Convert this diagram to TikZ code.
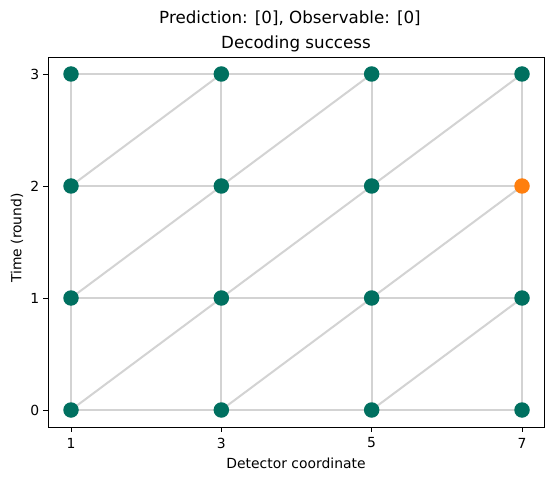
\documentclass[tikz,border=0pt]{standalone}
\usepackage{fontspec}
\setmainfont{DejaVu Sans}
\definecolor{dotteal}{RGB}{0,112,96}
\definecolor{dotorange}{RGB}{255,127,14}
\definecolor{edgegray}{RGB}{211,211,211}
\begin{document}
\begin{tikzpicture}[
  edge/.style={draw=edgegray, line width=2pt},
  dot/.style={circle, fill=dotteal, inner sep=0pt, minimum size=15.5pt},
  hotdot/.style={dot, fill=dotorange},
  ticklab/.style={font=\fontsize{13.9}{16}\selectfont, inner sep=0pt},
  titlelab/.style={font=\fontsize{16.7}{19}\selectfont, inner sep=0pt},
  spine/.style={draw=black, line width=0.9pt},
  tickmark/.style={draw=black, line width=0.9pt}
]
\useasboundingbox (0pt,0pt) rectangle (554pt,480pt);
\fill[white] (0pt,0pt) rectangle (554pt,480pt);
\begin{scope}[x=75.1667pt, y=112pt, shift={(71pt,70pt)}]
  \foreach \i in {0,1,2,3} {
    \foreach \t in {0,1,2,3} {
      \coordinate (c-\i-\t) at ({2*\i},\t);
    }
  }
  % horizontal edges
  \foreach \t in {0,1,2,3} {
    \foreach \i/\j in {0/1,1/2,2/3} {
      \path[edge] (c-\i-\t) -- (c-\j-\t);
    }
  }
  % vertical edges
  \foreach \i in {0,1,2,3} {
    \foreach \t/\u in {0/1,1/2,2/3} {
      \path[edge] (c-\i-\t) -- (c-\i-\u);
    }
  }
  % diagonal edges
  \foreach \i/\j in {0/1,1/2,2/3} {
    \foreach \t/\u in {0/1,1/2,2/3} {
      \path[edge] (c-\i-\t) -- (c-\j-\u);
    }
  }
  % dots
  \foreach \i in {0,1,2,3} {
    \foreach \t in {0,1,2,3} {
      \ifnum\i=3 \ifnum\t=2
        \node[hotdot] (n-\i-\t) at (c-\i-\t) {};
      \else
        \node[dot] (n-\i-\t) at (c-\i-\t) {};
      \fi\else
        \node[dot] (n-\i-\t) at (c-\i-\t) {};
      \fi
    }
  }
\end{scope}
% axes frame
\path[spine] (48pt,53pt) rectangle (544pt,423pt);
% x ticks
\foreach \d [count=\k from 0] in {1,3,5,7} {
  \coordinate (xt-\k) at ({71pt+\k*150.333pt},53pt);
  \path[tickmark] (xt-\k) -- ++(0,-4.9pt);
  \node[ticklab, anchor=center] (xl-\k) at ({71pt+\k*150.333pt},37pt) {\d};
}
% y ticks
\foreach \t in {0,1,2,3} {
  \coordinate (yt-\t) at (48pt,{70pt+\t*112pt});
  \path[tickmark] (yt-\t) -- ++(-4.9pt,0);
  \node[ticklab, anchor=east] (yl-\t) at (39.5pt,{70pt+\t*112pt}) {\t};
}
% axis labels
\node[ticklab] (xlabel) at (296pt,17pt) {Detector coordinate};
\node[ticklab, rotate=90] (ylabel) at (17pt,242pt) {Time (round)};
% titles
\node[titlelab] (title) at (296pt,436pt) {Decoding success};
\node[titlelab] (suptitle) at (290pt,462pt) {Prediction: [0], Observable: [0]};
\end{tikzpicture}
\end{document}
